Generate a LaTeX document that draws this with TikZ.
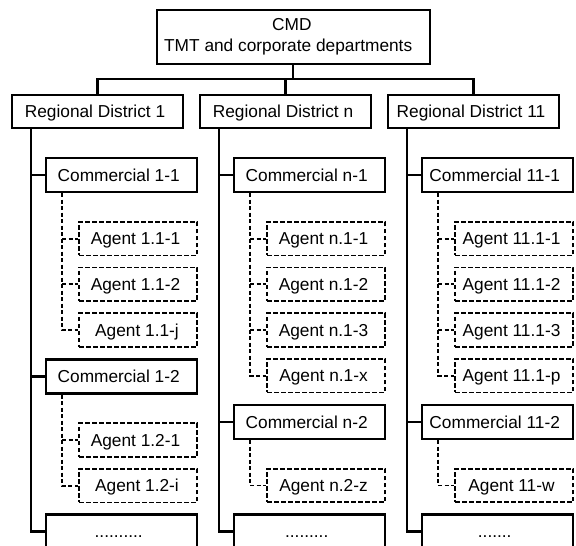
\documentclass[tikz,border=0pt]{standalone}
\usepackage{fontspec}
\setmainfont{Liberation Sans}
\begin{document}
\begin{tikzpicture}[x=1pt,y=-1pt,
  every node/.style={font=\fontsize{17.3}{21}\selectfont},
  solidbox/.style={draw, line width=2.2pt, inner sep=0pt,
    text height=12.4pt, text depth=0pt,
    execute at begin node={\hspace{-5pt}}},
  regbox/.style={solidbox, minimum width=170.4pt, minimum height=33pt},
  combox/.style={solidbox, minimum width=151pt, minimum height=34pt},
  agentbox/.style={draw, line width=1.8pt, dash pattern=on 4.5pt off 2.5pt,
    inner sep=0pt, text height=12.4pt, text depth=0pt,
    minimum width=118pt, minimum height=33.5pt,
    execute at begin node={\hspace{-5pt}}},
  link/.style={line width=2.2pt},
  dlink/.style={line width=1.8pt, dash pattern=on 4pt off 2.5pt},
]
\useasboundingbox (0,0) rectangle (576,546);
\fill[white] (0,0) rectangle (576,546);
\clip (0,0) rectangle (576,546);

% top of the hierarchy
\node[draw, line width=2.2pt, inner sep=0pt, align=center,
      minimum width=273pt, minimum height=54pt] (cmd) at (293.2,37)
  {CMD\hspace*{2.8pt}\\TMT and corporate departments\hspace*{10pt}};
\coordinate (bus) at (0,79.3);

% regional districts
\node[regbox] (r1)  at (97.5,111.5)  {Regional District 1};
\node[regbox] (rn)  at (285.5,111.5) {Regional District n};
\node[regbox] (r11) at (473.5,111.5) {Regional District 11};

\draw[link] (cmd.south) -- (cmd.south |- bus);
\draw[link] (r1.north) -- (r1.north |- bus) -- (r11.north |- bus) -- (r11.north);
\draw[link] (rn.north) -- (rn.north |- bus);

% ---- district 1 ----
\node[combox]   (c11)  at (121.2,175)   {Commercial 1-1};
\node[agentbox] (a111) at (138,238.7)   {Agent 1.1-1};
\node[agentbox] (a112) at (138,284.2)   {Agent 1.1-2};
\node[agentbox] (a11j) at (138,330)     {\hspace{3pt}Agent 1.1-j};
\node[combox]   (c12)  at (121.2,376.4) {Commercial 1-2};
\node[agentbox] (a121) at (138,440)     {Agent 1.2-1};
\node[agentbox] (a12i) at (138,485.7)   {\hspace{3pt}Agent 1.2-i};
\node[combox]   (c1e)  at (121.2,531.5) {..........};

\coordinate (t1) at ([xshift=20pt]r1.south west);
\draw[link] (t1) -- (t1 |- c1e.west) -- (c1e.west);
\draw[link] (t1 |- c11.west) -- (c11.west);
\draw[link] (t1 |- c12.west) -- (c12.west);

\coordinate (d11) at ([xshift=17.5pt]c11.south west);
\draw[dlink] (d11) -- (d11 |- a11j.west) -- (a11j.west);
\draw[dlink] (d11 |- a111.west) -- (a111.west);
\draw[dlink] (d11 |- a112.west) -- (a112.west);

\coordinate (d12) at ([xshift=17.5pt]c12.south west);
\draw[dlink] (d12) -- (d12 |- a12i.west) -- (a12i.west);
\draw[dlink] (d12 |- a121.west) -- (a121.west);

% ---- district n ----
\node[combox]   (cn1)  at (309.2,175)   {Commercial n-1};
\node[agentbox] (an11) at (326,238.7)   {Agent n.1-1};
\node[agentbox] (an12) at (326,284.2)   {Agent n.1-2};
\node[agentbox] (an13) at (326,330)     {Agent n.1-3};
\node[agentbox] (an1x) at (326,375.7)   {Agent n.1-x};
\node[combox]   (cn2)  at (309.2,422)   {Commercial n-2};
\node[agentbox] (an2z) at (326,485.5)   {Agent n.2-z};
\node[combox]   (cne)  at (309.2,531.5) {.........};

\coordinate (tn) at ([xshift=20pt]rn.south west);
\draw[link] (tn) -- (tn |- cne.west) -- (cne.west);
\draw[link] (tn |- cn1.west) -- (cn1.west);
\draw[link] (tn |- cn2.west) -- (cn2.west);

\coordinate (dn1) at ([xshift=17.5pt]cn1.south west);
\draw[dlink] (dn1) -- (dn1 |- an1x.west) -- (an1x.west);
\draw[dlink] (dn1 |- an11.west) -- (an11.west);
\draw[dlink] (dn1 |- an12.west) -- (an12.west);
\draw[dlink] (dn1 |- an13.west) -- (an13.west);

\coordinate (dn2) at ([xshift=17.5pt]cn2.south west);
\draw[dlink] (dn2) -- (dn2 |- an2z.west) -- (an2z.west);

% ---- district 11 ----
\node[combox]   (c111)  at (497.2,175)   {Commercial 11-1};
\node[agentbox] (a1111) at (514,238.7)   {Agent 11.1-1};
\node[agentbox] (a1112) at (514,284.2)   {Agent 11.1-2};
\node[agentbox] (a1113) at (514,330)     {Agent 11.1-3};
\node[agentbox] (a111p) at (514,375.7)   {Agent 11.1-p};
\node[combox]   (c112)  at (497.2,422)   {Commercial 11-2};
\node[agentbox] (a11w)  at (514,485.5)   {Agent 11-w};
\node[combox]   (c11e)  at (497.2,531.5) {.......};

\coordinate (t11) at ([xshift=20pt]r11.south west);
\draw[link] (t11) -- (t11 |- c11e.west) -- (c11e.west);
\draw[link] (t11 |- c111.west) -- (c111.west);
\draw[link] (t11 |- c112.west) -- (c112.west);

\coordinate (d111) at ([xshift=17.5pt]c111.south west);
\draw[dlink] (d111) -- (d111 |- a111p.west) -- (a111p.west);
\draw[dlink] (d111 |- a1111.west) -- (a1111.west);
\draw[dlink] (d111 |- a1112.west) -- (a1112.west);
\draw[dlink] (d111 |- a1113.west) -- (a1113.west);

\coordinate (d112) at ([xshift=17.5pt]c112.south west);
\draw[dlink] (d112) -- (d112 |- a11w.west) -- (a11w.west);
\end{tikzpicture}
\end{document}
